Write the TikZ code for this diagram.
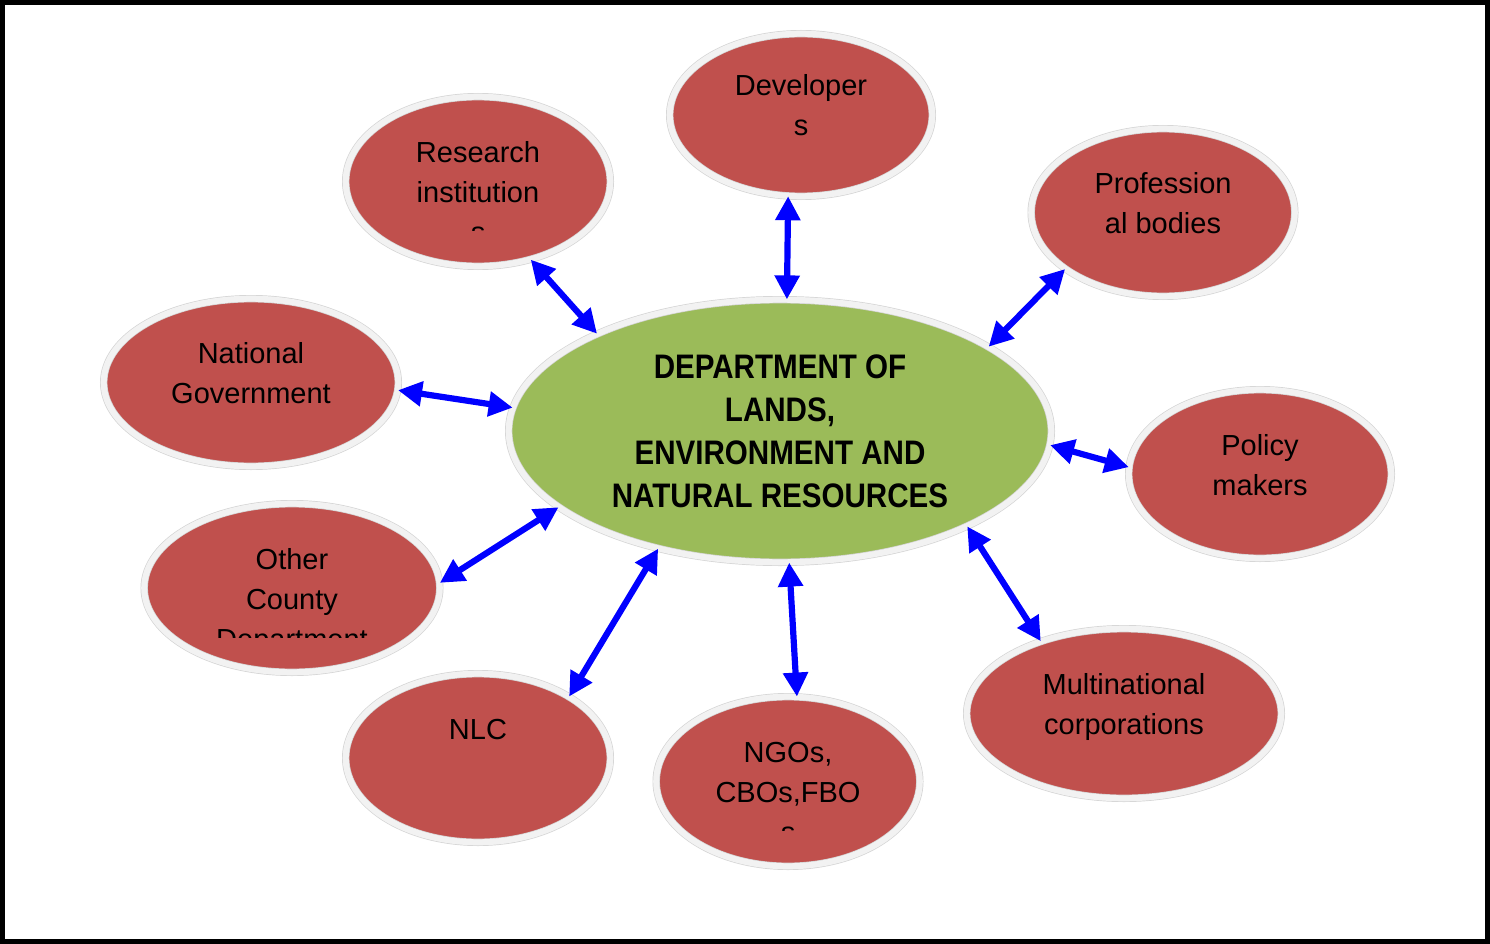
\documentclass[tikz,border=0pt]{standalone}
\usepackage{fontspec}
\setmainfont{Liberation Sans}
\newfontfamily\deptfont{Liberation Sans}[FakeStretch=0.87]
\usetikzlibrary{arrows.meta,calc,shapes.geometric}
\definecolor{actorred}{HTML}{C0504D}
\definecolor{deptgreen}{HTML}{9BBB59}
\definecolor{rimfill}{HTML}{F2F2F2}
\definecolor{rimline}{HTML}{D4D4D4}
\tikzset{link/.style={draw=blue, line width=6.2pt,
    {Triangle[length=24pt,width=24pt]}-{Triangle[length=24pt,width=24pt]}},
  actor/.style={ellipse, draw=rimline, double=rimfill, double distance=6pt,
    line width=0.7pt, fill=actorred, inner sep=0pt},
  lbl/.style={anchor=base, inner sep=0pt, font=\fontsize{29}{40}\selectfont}}

\begin{document}
\begin{tikzpicture}[x=1pt, y=-1pt]
  \useasboundingbox (0,0) rectangle (1490,944);
  \draw[line width=5pt] (2.5,2.5) rectangle (1487.5,941.5);
  % department in the middle
  \node[actor, fill=deptgreen, minimum width=542.6pt, minimum height=262.6pt, align=center,
    font=\deptfont\bfseries\fontsize{34}{43}\selectfont] (dept) at (780,431)
    {DEPARTMENT OF\\LANDS,\\ENVIRONMENT AND\\NATURAL RESOURCES};
  % stakeholders round it
  \node[actor, minimum width=264.6pt, minimum height=169.6pt] (res) at (478,181.5) {};
  \node[actor, minimum width=262.6pt, minimum height=162.6pt] (dev) at (801,115) {};
  \node[actor, minimum width=263.6pt, minimum height=167.6pt] (prof) at (1163,212.5) {};
  \node[actor, minimum width=294.6pt, minimum height=167.6pt] (natgov) at (251,382.5) {};
  \node[actor, minimum width=262.6pt, minimum height=168.6pt] (policy) at (1260,474) {};
  \node[actor, minimum width=295.6pt, minimum height=168.6pt] (county) at (292,588) {};
  \node[actor, minimum width=264.6pt, minimum height=168.6pt] (nlc) at (478,758) {};
  \node[actor, minimum width=263.6pt, minimum height=169.6pt] (ngo) at (788,781.5) {};
  \node[actor, minimum width=314.6pt, minimum height=169.6pt] (multi) at (1124,713.5) {};
  % labels sit in a fixed box, lines past it are cut off
  \foreach \n/\lines in {res/{Research\\institution\\s}, dev/{Developer\\s},
      prof/{Profession\\al bodies}, natgov/{National\\Government}, policy/{Policy\\makers},
      county/{Other\\County\\Department}, nlc/{NLC}, ngo/{NGOs,\\CBOs,FBO\\s},
      multi/{Multinational\\corporations}}{
    \begin{scope}
      \clip ($(\n.center)+(-150,-90)$) rectangle ($(\n.center)+(150,49)$);
      \node[lbl] (\n-t) at ($(\n.center)+(0,-19)$)
        {\begin{tabular}[t]{@{}c@{}}\lines\end{tabular}};
    \end{scope}
  }
  % two-way links
  \foreach \a/\b in {res.-56/dept.152, dev.-99/dept.87, prof.-150/dept.22,
      natgov.-3/dept.175, policy.177/dept.-3, county.2/dept.199,
      nlc.34/dept.-136, ngo.84/dept.-86, multi.139/dept.-27}
    \draw[link] (\a) -- (\b);
\end{tikzpicture}
\end{document}
